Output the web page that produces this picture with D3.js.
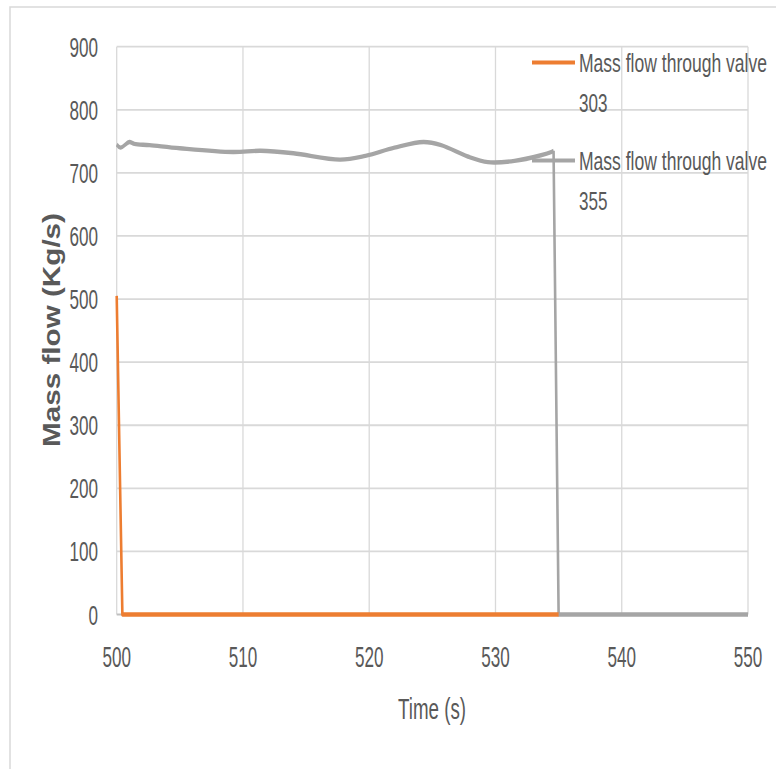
<!DOCTYPE html>
<html><head><meta charset="utf-8">
<script src="https://cdn.jsdelivr.net/npm/d3@7"></script>
<style>body{margin:0;background:#fff}svg{display:block}</style>
</head><body>
<svg id="c" width="776" height="769"></svg>
<script>
const xTicks = [500, 510, 520, 530, 540, 550];
const yTicks = [0, 100, 200, 300, 400, 500, 600, 700, 800, 900];
const time303 = [500, 500.45, 535];
const flow303 = [505, 0, 0];
const time355 = [500, 500.3, 501.0, 501.4, 502.6, 505, 509.2, 511.4, 514, 517.7, 519.7, 522, 524.3, 525.7, 527.8, 529.4, 531.5, 533.6, 534.4, 534.6, 535.0, 550];
const flow355 = [745, 740, 749, 746, 744, 739, 733, 735, 731, 721, 727, 740, 749, 744, 726, 717, 719, 728, 733, 735, 0, 0];
const seriesNames = ["Mass flow through valve", "Mass flow through valve"];
const seriesIds = ["303", "355"];
const xTitle = "Time (s)";
const yTitle = "Mass flow (Kg/s)";

const svg = d3.select("#c");
const font = "'Liberation Sans Narrow','Liberation Sans',Arial,sans-serif";
const txt = "#595959";
const digitW = 9.5;
const stretch = 1.7; // vertical stretch of the original picture

// outer border
svg.append("rect").attr("x",10).attr("y",7).attr("width",800).attr("height",800)
  .attr("fill","none").attr("stroke","#d9d9d9").attr("stroke-width",1.5);

const x = d3.scaleLinear().domain([500,550]).range([116.7,748]);
const y = d3.scaleLinear().domain([0,900]).range([614.5,46.7]);
const yS = d3.scaleLinear().domain([0,900]).range([614.5/stretch,46.7/stretch]);

// gridlines
svg.append("g").selectAll("line").data(yTicks.filter(d=>d>0)).join("line")
  .attr("x1",x(500)).attr("x2",x(550)).attr("y1",d=>y(d)).attr("y2",d=>y(d))
  .attr("stroke","#d9d9d9").attr("stroke-width",1.8);
svg.append("g").selectAll("line").data(xTicks).join("line")
  .attr("x1",d=>x(d)).attr("x2",d=>x(d)).attr("y1",y(0)).attr("y2",y(900))
  .attr("stroke","#d9d9d9").attr("stroke-width",1.3);
// bottom axis
svg.append("line").attr("x1",x(500)).attr("x2",x(550)).attr("y1",y(0)).attr("y2",y(0))
  .attr("stroke","#bfbfbf").attr("stroke-width",1.8);

// tick labels
svg.append("g").selectAll("text").data(yTicks).join("text")
  .attr("x",98).attr("y",d=>y(d)+10).attr("text-anchor","end")
  .attr("font-family",font).attr("font-size",28).attr("fill",txt)
  .attr("textLength",d=>String(d).length*digitW).attr("lengthAdjust","spacingAndGlyphs")
  .text(d=>d);
svg.append("g").selectAll("text").data(xTicks).join("text")
  .attr("x",d=>x(d)).attr("y",666.5).attr("text-anchor","middle")
  .attr("font-family",font).attr("font-size",29).attr("fill",txt)
  .attr("textLength",d=>String(d).length*digitW).attr("lengthAdjust","spacingAndGlyphs")
  .text(d=>d);

// axis titles
svg.append("text").attr("x",432).attr("y",719).attr("text-anchor","middle")
  .attr("font-family",font).attr("font-size",30).attr("fill",txt)
  .attr("textLength",68).attr("lengthAdjust","spacingAndGlyphs").text(xTitle);
svg.append("text").attr("transform","translate(60,330) rotate(-90)").attr("text-anchor","middle")
  .attr("font-family","'Liberation Sans',Arial,sans-serif").attr("font-weight","bold")
  .attr("font-size",23).attr("fill",txt)
  .attr("textLength",234).attr("lengthAdjust","spacingAndGlyphs").text(yTitle);

// lines, drawn in a vertically stretched group so horizontal strokes are thicker
const lg = svg.append("g").attr("transform",`scale(1,${stretch})`);
const pts355 = d3.zip(time355, flow355);
const dropIdx = time355.indexOf(534.6);
const smooth = d3.line().x(d=>x(d[0])).y(d=>yS(d[1])).curve(d3.curveCatmullRom.alpha(0.5));
const straight = d3.line().x(d=>x(d[0])).y(d=>yS(d[1]));
lg.append("path").attr("d", smooth(pts355.slice(0, dropIdx+1)))
  .attr("fill","none").attr("stroke","#a5a5a5").attr("stroke-width",2.6).attr("stroke-linejoin","round");
lg.append("path").attr("d", straight(pts355.slice(dropIdx)))
  .attr("fill","none").attr("stroke","#a5a5a5").attr("stroke-width",2.6).attr("stroke-linejoin","round");
lg.append("path").attr("d", straight(d3.zip(time303, flow303)))
  .attr("fill","none").attr("stroke","#ed7d31").attr("stroke-width",2.6).attr("stroke-linejoin","round");

// legend
const colors = ["#ed7d31","#a5a5a5"];
const legY = [72, 170];
seriesNames.forEach((n,i)=>{
  const g = svg.append("g");
  g.append("line").attr("x1",532).attr("x2",575).attr("y1",legY[i]-9.5).attr("y2",legY[i]-9.5)
    .attr("stroke",colors[i]).attr("stroke-width",4);
  g.append("text").attr("x",579).attr("y",legY[i]).attr("font-family",font).attr("font-size",26)
    .attr("fill",txt).attr("textLength",188).attr("lengthAdjust","spacingAndGlyphs").text(n);
  g.append("text").attr("x",579).attr("y",legY[i]+40).attr("font-family",font).attr("font-size",26)
    .attr("fill",txt).attr("textLength",seriesIds[i].length*digitW).attr("lengthAdjust","spacingAndGlyphs").text(seriesIds[i]);
});
</script>
</body></html>
